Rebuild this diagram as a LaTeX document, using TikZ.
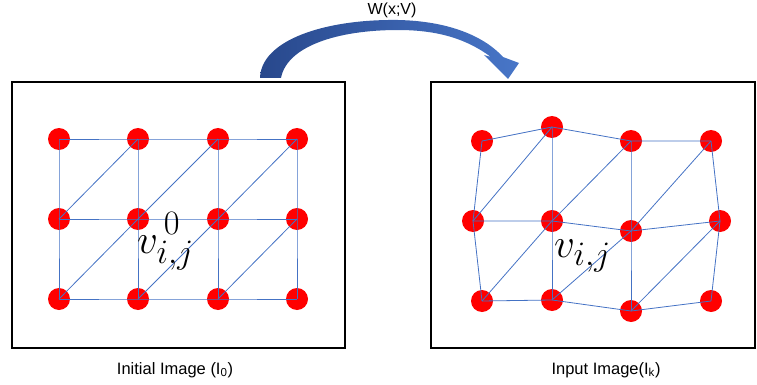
\documentclass[tikz,border=0pt]{standalone}
\usepackage{fontspec}
\setmainfont{Liberation Sans}
\begin{document}
\begin{tikzpicture}[x=1pt,y=-1pt,
  dot/.style={circle,fill=dotred,draw=none,minimum size=22pt,inner sep=0pt},
  mesh/.style={draw=meshblue,line width=0.8pt},
  imgbox/.style={draw=black,line width=2pt,inner sep=0pt},
  caption/.style={font=\fontsize{16.5}{18}\selectfont,inner sep=0pt},
  vlabel/.style={inner sep=0pt,font=\fontsize{24.88}{30}\selectfont}]
\definecolor{dotred}{RGB}{255,0,0}
\definecolor{meshblue}{RGB}{68,114,196}
\definecolor{arrowdark}{RGB}{40,72,140}
\definecolor{arrowlight}{RGB}{72,118,200}
\useasboundingbox (0,0) rectangle (757,385);
% boxes
\node[imgbox,minimum width=333pt,minimum height=265.5pt] (Lbox) at (178,215.25) {};
\node[imgbox,minimum width=324pt,minimum height=265.5pt] (Rbox) at (593,215.25) {};
% curved block arrow
\shade[left color=arrowdark,right color=arrowlight]
  (260,78) .. controls (261,40) and (325,19) .. (398,20)
  .. controls (448,21) and (484,36) .. (503,57)
  -- (519,63) -- (508,79) -- (484,55) -- (491,57)
  .. controls (468,40) and (440,30) .. (398,30)
  .. controls (338,30) and (287,46) .. (281,78) -- cycle;
\node[font=\fontsize{16}{18}\selectfont,inner sep=0pt,anchor=base] (W) at (392,15) {W(x;V)};
% left grid dots
\foreach \c/\x in {0/59,1/138,2/218,3/297}{
  \foreach \r/\y in {0/139,1/219,2/299}{
    \node[dot] (L\r\c) at (\x,\y) {};
  }
}
% right grid dots
\node[dot] (R00) at (482,141) {};
\node[dot] (R01) at (552,127) {};
\node[dot] (R02) at (631,141) {};
\node[dot] (R03) at (711,141) {};
\node[dot] (R10) at (473,221) {};
\node[dot] (R11) at (552,221) {};
\node[dot] (R12) at (631,231) {};
\node[dot] (R13) at (720,221) {};
\node[dot] (R20) at (482,301) {};
\node[dot] (R21) at (552,300) {};
\node[dot] (R22) at (631,311) {};
\node[dot] (R23) at (711,301) {};
% mesh edges
\foreach \g in {L,R}{
  \foreach \r in {0,1,2}{
    \draw[mesh] (\g\r0.center) -- (\g\r1.center) -- (\g\r2.center) -- (\g\r3.center);
  }
  \foreach \c in {0,1,2,3}{
    \draw[mesh] (\g0\c.center) -- (\g1\c.center) -- (\g2\c.center);
  }
  \foreach \r/\rr in {1/0,2/1}{
    \foreach \c/\cc in {0/1,1/2,2/3}{
      \draw[mesh] (\g\r\c.center) -- (\g\rr\cc.center);
    }
  }
}
% vertex labels
\node[vlabel,anchor=base west] (vL) at (137,253) {\scalebox{1.65}{$v_{i,j}^{\,\raisebox{2pt}{$\scriptstyle 0$}}$}};
\node[vlabel,anchor=base west] (vR) at (554,257) {\scalebox{1.65}{$v_{i,j}$}};
% captions
\node[caption,anchor=base] (capL) at (175,374) {Initial Image (I\textsubscript{0})};
\node[caption,anchor=base] (capR) at (606,374) {Input Image(I\textsubscript{k})};
\end{tikzpicture}
\end{document}
